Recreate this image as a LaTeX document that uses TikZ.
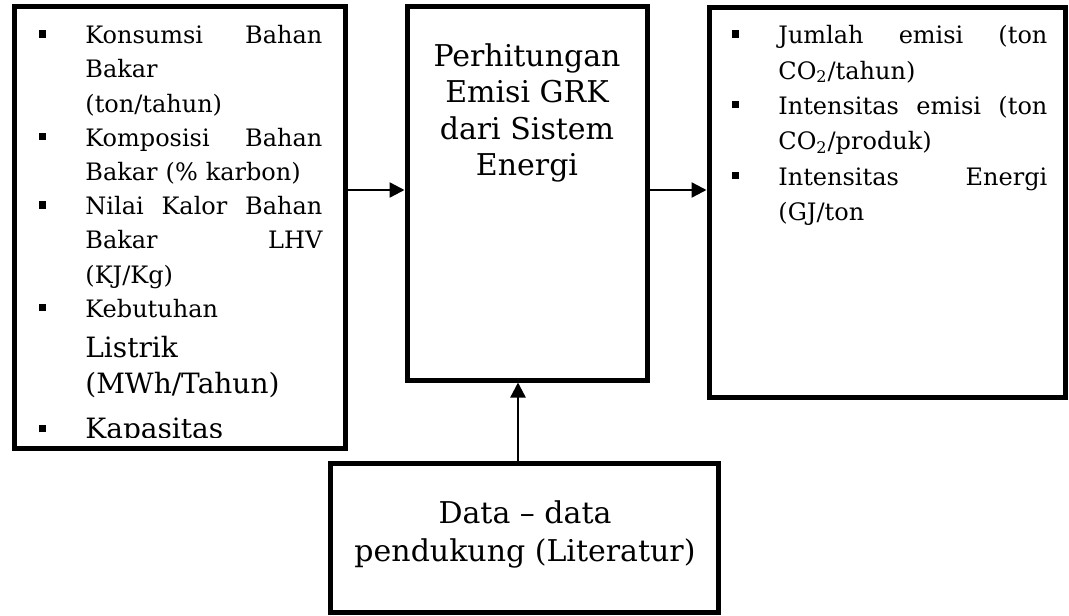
\documentclass[tikz,border=0pt]{standalone}
\usepackage{fontspec}
\setmainfont{DejaVu Serif}
\usetikzlibrary{arrows.meta}
\newcommand{\kotak}{\leavevmode\llap{\rule[3pt]{3.8pt}{3.8pt}\hspace{19.5pt}}}

\begin{document}
\begin{tikzpicture}[x=0.5pt,y=-0.5pt,
        blok/.style = {draw,line width=2.5pt,inner sep=0pt},
        isi/.style = {inner sep=0pt,anchor=north west,align=left},
        judul/.style = {inner sep=0pt,anchor=north,align=center},
        panah/.style = {line width=1.2pt,-{Triangle[length=7.5pt,width=7.5pt]}}]
    \useasboundingbox (0,0) rectangle (1069,615);
    % kotak
    \node [blok,minimum width=165.75pt,minimum height=220.75pt] (kiri) at (179.75,227.25) {};
    \node [blok,minimum width=120pt,minimum height=186.75pt] (tengah) at (527,193.25) {};
    \node [blok,minimum width=178.25pt,minimum height=195pt] (kanan) at (887.25,202.5) {};
    \node [blok,minimum width=193.75pt,minimum height=74.5pt] (bawah) at (524.25,538) {};
    % isi kotak kiri, terpotong oleh kotak
    \begin{scope}
        \clip (14,6) rectangle (345,437);
        \node [isi,text width=118.5pt,font=\fontsize{12}{17.1}\selectfont] (masukan) at (85,25) {%
            \kotak Konsumsi\hfill Bahan\\
            Bakar\\
            (ton/tahun)\\
            \kotak Komposisi\hfill Bahan\\
            Bakar (\% karbon)\\
            \kotak Nilai\hfill Kalor\hfill Bahan\\
            Bakar\hfill LHV\\
            (KJ/Kg)\\
            \kotak Kebutuhan\\
            \fontsize{14}{20}\selectfont Listrik\\[-2pt]
            (MWh/Tahun)\\[5.5pt]
            \kotak Kapasitas};
    \end{scope}
    \node [isi,text width=134.5pt,font=\fontsize{12}{17.7}\selectfont] (keluaran) at (778,25) {%
        \kotak Jumlah\hfill emisi\hfill (ton\\
        CO\textsubscript{2}/tahun)\\
        \kotak Intensitas\hfill emisi\hfill (ton\\
        CO\textsubscript{2}/produk)\\
        \kotak Intensitas\hfill Energi\\
        (GJ/ton};
    \node [judul,font=\fontsize{15}{18.3}\selectfont] (proses) at (527,43) {Perhitungan\\Emisi GRK\\dari Sistem\\Energi};
    \node [judul,font=\fontsize{15}{19}\selectfont] (literatur) at (525,500) {Data -- data\\pendukung (Literatur)};
    % panah
    \draw [panah] (kiri.east |- 0,190) -- (tengah.west |- 0,190);
    \draw [panah] (tengah.east |- 0,190) -- (kanan.west |- 0,190);
    \draw [panah] (518,0 |- bawah.north) -- (518,0 |- tengah.south);
\end{tikzpicture}
\end{document}
